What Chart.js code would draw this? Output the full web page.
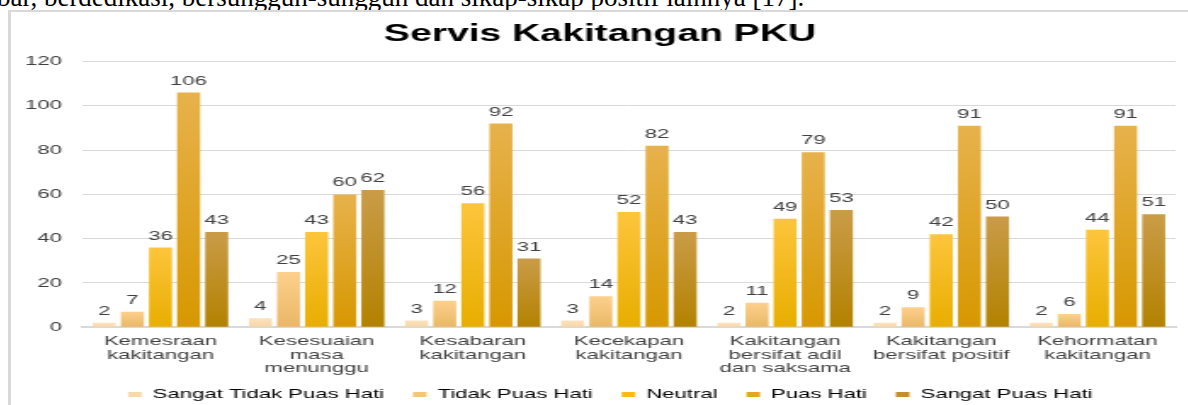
<!DOCTYPE html>
<html>
<head>
<meta charset="utf-8">
<script src="https://cdn.jsdelivr.net/npm/chart.js@4"></script>
<style>
  html, body { margin: 0; padding: 0; background: #fff; overflow: hidden; }
  body { width: 1188px; height: 405px; position: relative; }
  .doc { position: absolute; left: -3px; top: -16px; font: 27px/27px "Liberation Serif", serif; color: #000; white-space: nowrap; }
  .frame { position: absolute; left: 8px; top: 10px; width: 1190px; height: 400px; border-left: 3px solid #d9d9d9; border-top: 2px solid #d9d9d9; }
  /* gambar asal diregang mendatar, jadi kanvas diregang juga */
  .box { position: absolute; left: 11px; top: 12px; width: 692px; height: 393px; transform: scaleX(1.7); transform-origin: 0 0; }
</style>
</head>
<body>
<div class="doc">bar, berdedikasi, bersungguh-sungguh dan sikap-sikap positif lainnya [17].</div>
<div class="frame"></div>
<div class="box"><canvas id="c"></canvas></div>
<script>
// data
const labels = [
  ['Kemesraan', 'kakitangan'],
  ['Kesesuaian', 'masa', 'menunggu'],
  ['Kesabaran', 'kakitangan'],
  ['Kecekapan', 'kakitangan'],
  ['Kakitangan', 'bersifat adil', 'dan saksama'],
  ['Kakitangan', 'bersifat positif'],
  ['Kehormatan', 'kakitangan'],
];
const sangatTidakPuas = [2, 4, 3, 3, 2, 2, 2];
const tidakPuas = [7, 25, 12, 14, 11, 9, 6];
const neutral = [36, 43, 56, 52, 49, 42, 44];
const puas = [106, 60, 92, 82, 79, 91, 91];
const sangatPuas = [43, 62, 31, 43, 53, 50, 51];
const yTicks = [0, 20, 40, 60, 80, 100, 120];

// warna atas/bawah untuk gradien setiap bar
const colors = [
  ['#fce3bd', '#f7d6a6'],
  ['#fdd08c', '#e9b766'],
  ['#fdc53c', '#e8ae00'],
  ['#e7b24c', '#d79800'],
  ['#ca9c48', '#b38200'],
];
const legendColors = ['#f9d9a8', '#f6c57c', '#f8bd10', '#e2a620', '#c0902a'];

function grad(top, bottom) {
  return (ctx) => {
    const chart = ctx.chart;
    const area = chart.chartArea;
    if (!area || ctx.parsed == null) return bottom;
    const y = chart.scales.y.getPixelForValue(ctx.parsed.y);
    const g = chart.ctx.createLinearGradient(0, y, 0, area.bottom);
    g.addColorStop(0, top);
    g.addColorStop(1, bottom);
    return g;
  };
}

// label nilai di atas bar
const valueLabels = {
  id: 'valueLabels',
  afterDatasetsDraw(chart) {
    const ctx = chart.ctx;
    ctx.save();
    ctx.font = '13px "Liberation Sans", Arial, sans-serif';
    ctx.fillStyle = '#404040';
    ctx.textAlign = 'center';
    ctx.textBaseline = 'alphabetic';
    chart.data.datasets.forEach((ds, i) => {
      chart.getDatasetMeta(i).data.forEach((bar, j) => {
        ctx.fillText(ds.data[j], bar.x, bar.y - 8);
      });
    });
    ctx.restore();
  },
};

// legenda sedikit naik & ke kanan
const nudgeLegend = {
  id: 'nudgeLegend',
  afterLayout(chart) {
    const lg = chart.legend;
    lg.top -= 12;
    lg.left += 6; lg.right += 6;
  },
};

const series = [
  ['Sangat Tidak Puas Hati', sangatTidakPuas],
  ['Tidak Puas Hati', tidakPuas],
  ['Neutral', neutral],
  ['Puas Hati', puas],
  ['Sangat Puas Hati', sangatPuas],
];

Chart.defaults.font.family = '"Liberation Sans", Arial, sans-serif';
Chart.defaults.color = '#404040';

new Chart(document.getElementById('c'), {
  type: 'bar',
  data: {
    labels,
    datasets: series.map(([name, data], i) => ({
      label: name,
      data,
      backgroundColor: grad(colors[i][0], colors[i][1]),
      borderWidth: 0,
      categoryPercentage: 0.9,
      barPercentage: 0.82,
    })),
  },
  options: {
    responsive: true, maintainAspectRatio: false, animation: false,
    layout: { padding: { left: 8, right: 7, top: 0, bottom: 0 } },
    plugins: {
      title: {
        display: true, text: 'Servis Kakitangan PKU', color: '#000',
        font: { size: 23, weight: 'bold', lineHeight: 1.2 }, padding: { top: 9, bottom: 13 },
      },
      legend: {
        position: 'bottom',
        maxHeight: 22,
        labels: {
          boxWidth: 8, boxHeight: 5, padding: 17, font: { size: 13 },
          generateLabels: (chart) => chart.data.datasets.map((ds, i) => ({
            text: ds.label, fillStyle: legendColors[i], strokeStyle: legendColors[i], lineWidth: 0, datasetIndex: i,
          })),
        },
      },
      tooltip: { enabled: false },
    },
    scales: {
      y: {
        min: 0, max: 120,
        afterBuildTicks: (s) => { s.ticks = yTicks.map((v) => ({ value: v })); },
        afterFit: (s) => { s.width = 34; },
        grid: { color: '#d9d9d9', drawTicks: false },
        border: { display: false },
        ticks: { font: { size: 13 }, padding: 12 },
      },
      x: {
        grid: { display: false, drawTicks: false },
        border: { color: '#d9d9d9', width: 2 },
        ticks: { font: { size: 13, lineHeight: 1.02 }, padding: 8, maxRotation: 0, autoSkip: false },
      },
    },
  },
  plugins: [valueLabels, nudgeLegend],
});
</script>
</body>
</html>
